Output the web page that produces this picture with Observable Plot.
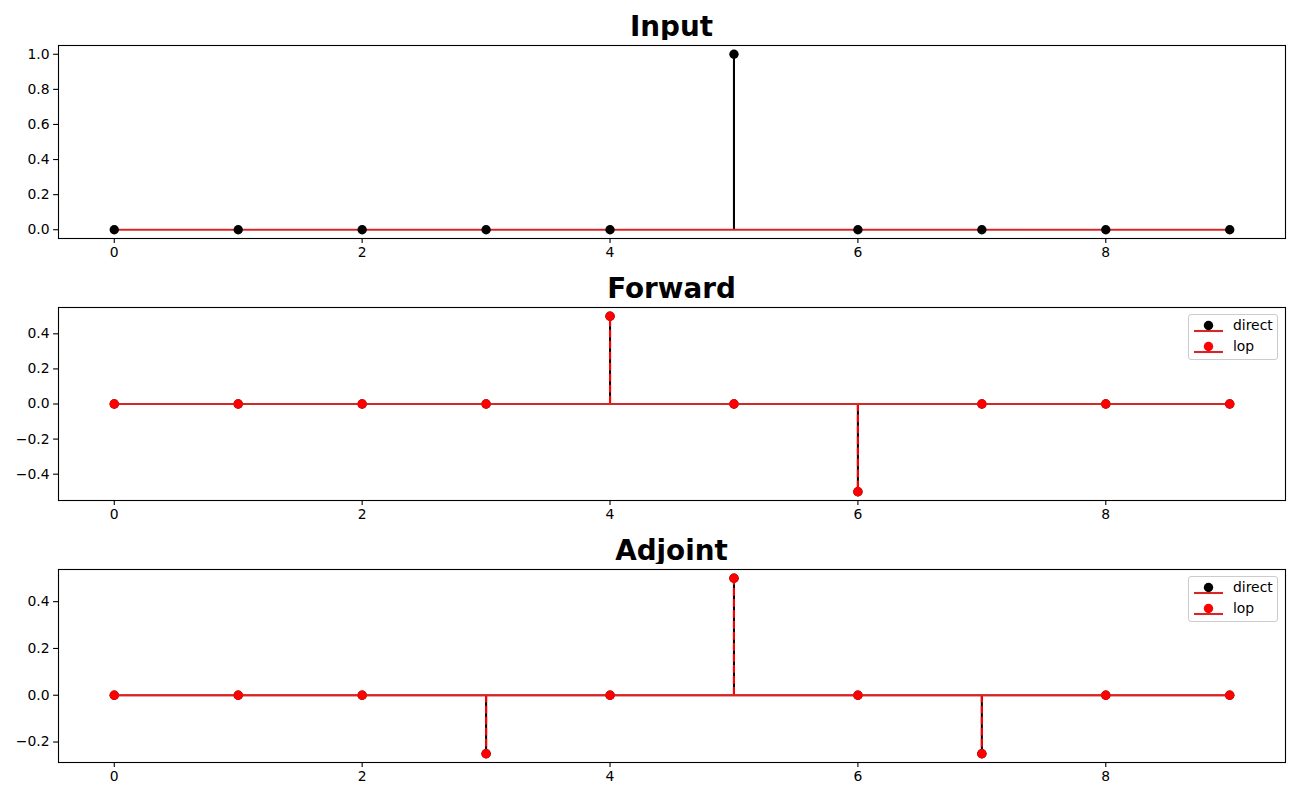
<!DOCTYPE html>
<html><head><meta charset="utf-8">
<script src="https://cdn.jsdelivr.net/npm/d3@7"></script>
<script src="https://cdn.jsdelivr.net/npm/@observablehq/plot@0.6"></script>
<style>
body{margin:0;background:#fff;font-family:"DejaVu Sans",sans-serif;}
#root{position:relative;width:1300px;height:800px;overflow:hidden;}
.title{position:absolute;left:58px;width:1227px;text-align:center;font-weight:bold;font-size:27.8px;line-height:1;font-family:"DejaVu Sans",sans-serif;}
.panel{position:absolute;left:0;}
.legend{position:absolute;box-sizing:border-box;border:1px solid #cccccc;border-radius:3px;background:rgba(255,255,255,0.8);}
</style></head><body><div id="root"></div>
<script>
// ---- data ----
const xs = [0, 1, 2, 3, 4, 5, 6, 7, 8, 9];
const inputValues   = [0, 0, 0, 0, 0, 1, 0, 0, 0, 0];
const forwardDirect = [0, 0, 0, 0, 0.5, 0, -0.5, 0, 0, 0];
const forwardLop    = [0, 0, 0, 0, 0.5, 0, -0.5, 0, 0, 0];
const adjointDirect = [0, 0, 0, -0.25, 0, 0.5, 0, -0.25, 0, 0];
const adjointLop    = [0, 0, 0, -0.25, 0, 0.5, 0, -0.25, 0, 0];
const xTicks = [0, 2, 4, 6, 8];
const inputYTicks = [0, 0.2, 0.4, 0.6, 0.8, 1.0];
const forwardYTicks = [-0.4, -0.2, 0, 0.2, 0.4];
const adjointYTicks = [-0.2, 0, 0.2, 0.4];
const panelTitles = ["Input", "Forward", "Adjoint"];
const legendLabels = ["direct", "lop"];

const root = document.getElementById("root");
const W = 1300, ML = 58, MR = 15, MT = 5, MB = 30, FH = 193;
const BASE = "#d62728";
const LW = 2.08, R = 4.7;
const fmtY = d3.format(".1f");
const fmtX = d3.format("d");

function rowsOf(vals) { return xs.map((x, i) => ({x, y: vals[i]})); }

function panel({title, frameTop, yDomain, yTicks, direct, lop, legend}) {
  const t = document.createElement("div");
  t.className = "title";
  t.style.top = (frameTop - 8.3 - 23.5) + "px";
  t.textContent = title;
  root.appendChild(t);

  const d = rowsOf(direct);
  const marks = [
    Plot.ruleX(d, {x: "x", y1: () => 0, y2: "y", stroke: "black", strokeWidth: LW}),
    Plot.lineY(d, {x: "x", y: () => 0, stroke: BASE, strokeWidth: LW}),
    Plot.dot(d, {x: "x", y: "y", fill: "black", r: R})
  ];
  if (lop) {
    const l = rowsOf(lop);
    marks.push(
      Plot.ruleX(l, {x: "x", y1: () => 0, y2: "y", stroke: "red", strokeWidth: LW, strokeDasharray: "7.7,3.3"}),
      Plot.lineY(l, {x: "x", y: () => 0, stroke: BASE, strokeWidth: LW}),
      Plot.dot(l, {x: "x", y: "y", fill: "red", r: R})
    );
  }
  marks.push(
    Plot.axisX(xTicks, {tickSize: 4.9, tickPadding: 4, fontSize: 13.9, label: null, tickFormat: fmtX, stroke: "black", fill: "black", strokeWidth: 1.1}),
    Plot.axisY(yTicks, {tickSize: 4.9, tickPadding: 4, fontSize: 13.9, label: null, tickFormat: fmtY, stroke: "black", fill: "black", strokeWidth: 1.1}),
    Plot.frame({stroke: "black", strokeWidth: 1.1})
  );
  const chart = Plot.plot({
    width: W, height: MT + FH + MB,
    marginLeft: ML, marginRight: MR, marginTop: MT, marginBottom: MB,
    x: {domain: [-0.45, 9.45]},
    y: {domain: yDomain},
    style: {fontFamily: "DejaVu Sans, sans-serif", fontSize: "13.9px", color: "black", background: "white"},
    marks
  });
  chart.classList.add("panel");
  chart.style.top = (frameTop - MT) + "px";
  root.appendChild(chart);

  if (legend) {
    const lg = document.createElement("div");
    lg.className = "legend";
    lg.style.left = "1188px";
    lg.style.top = (frameTop + 7) + "px";
    lg.style.width = "90px";
    lg.style.height = "46px";
    const colors = ["black", "red"];
    let s = `<svg width="88" height="44" style="display:block">`;
    legendLabels.forEach((lab, i) => {
      const cy = 10.5 + i * 21;
      s += `<line x1="5" x2="34" y1="${cy + 5.5}" y2="${cy + 5.5}" stroke="${BASE}" stroke-width="${LW}"/>`;
      s += `<circle cx="19.5" cy="${cy}" r="${R}" fill="${colors[i]}"/>`;
      s += `<text x="44" y="${cy}" dy="0.35em" font-size="13.9" font-family="DejaVu Sans, sans-serif">${lab}</text>`;
    });
    s += `</svg>`;
    lg.innerHTML = s;
    root.appendChild(lg);
  }
}

panel({title: panelTitles[0], frameTop: 45, yDomain: [-0.05, 1.05], yTicks: inputYTicks, direct: inputValues, lop: null, legend: false});
panel({title: panelTitles[1], frameTop: 307, yDomain: [-0.55, 0.55], yTicks: forwardYTicks, direct: forwardDirect, lop: forwardLop, legend: true});
panel({title: panelTitles[2], frameTop: 569, yDomain: [-0.2875, 0.5375], yTicks: adjointYTicks, direct: adjointDirect, lop: adjointLop, legend: true});
</script></body></html>
